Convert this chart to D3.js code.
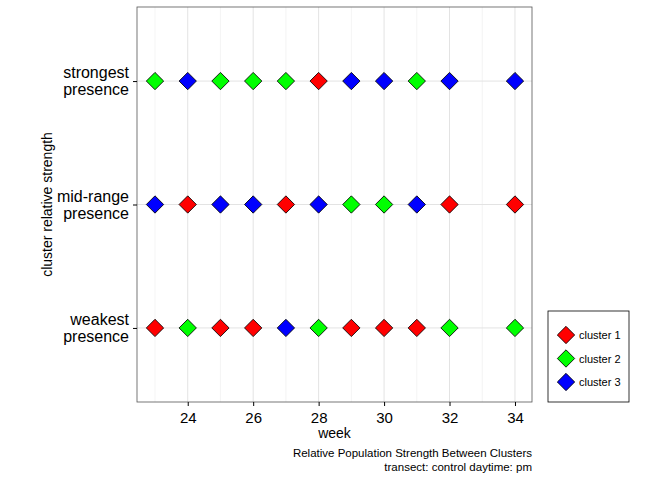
<!DOCTYPE html>
<html><head><meta charset="utf-8">
<script src="https://cdn.jsdelivr.net/npm/d3@7"></script>
<style>body{margin:0;background:#fff}text{font-family:"Liberation Sans",Arial,sans-serif}</style>
</head><body><svg id="c" width="672" height="480"></svg>
<script>
const weeks = [23,24,25,26,27,28,29,30,31,32,34];
const levels = ["weakest\npresence","mid-range\npresence","strongest\npresence"];
const strongest = [2,3,2,2,2,1,3,3,2,3,3];
const midrange  = [3,1,3,3,1,3,2,2,3,1,1];
const weakest   = [1,2,1,1,3,2,1,1,1,2,2];
const clusters = ["cluster 1","cluster 2","cluster 3"];
const colors = ["#ff0000","#00ff00","#0000ff"];
const xTicks = [24,26,28,30,32,34];

const svg = d3.select("#c");
const L=137,R=532,T=7,B=402;
const x = d3.scaleLinear().domain([22.45,34.52]).range([L,R]);
const y = d3.scaleLinear().domain([0.4,3.6]).range([B,T]);

// grid
svg.selectAll(".gv").data(d3.range(23,35)).join("line")
  .attr("x1",d=>x(d)).attr("x2",d=>x(d)).attr("y1",T).attr("y2",B)
  .attr("stroke",d=>d%2===0?"#e3e3e3":"#efefef").attr("stroke-width",d=>d%2===0?1:0.7);
svg.selectAll(".gh").data([1,2,3]).join("line")
  .attr("x1",L).attr("x2",R).attr("y1",d=>y(d)).attr("y2",d=>y(d))
  .attr("stroke","#e3e3e3");
svg.append("rect").attr("x",L).attr("y",T).attr("width",R-L).attr("height",B-T)
  .attr("fill","none").attr("stroke","#555").attr("stroke-width",0.8);

// axes
const xa = svg.append("g").attr("transform",`translate(0,${B})`)
  .call(d3.axisBottom(x).tickValues(xTicks).tickSize(4).tickSizeOuter(0));
xa.select(".domain").remove();
xa.selectAll("text").attr("font-size",15).attr("fill","#000").attr("dy","0.9em");
const ya = svg.append("g").attr("transform",`translate(${L},0)`)
  .call(d3.axisLeft(y).tickValues([1,2,3]).tickFormat("").tickSize(4));
ya.select(".domain").remove();
[1,2,3].forEach(v=>{
  const lines = levels[v-1].split("\n");
  const t = svg.append("text").attr("text-anchor","end").attr("font-size",16)
    .attr("x",L-8).attr("y",y(v)-3);
  lines.forEach((s,i)=>t.append("tspan").attr("x",L-8).attr("dy",i?17:0).text(s));
});

// points
const rows = [[3,strongest],[2,midrange],[1,weakest]];
const sym = d3.symbol().type(d3.symbolSquare).size(150);
rows.forEach(([lv,arr])=>{
  svg.selectAll(null).data(weeks).join("path")
    .attr("d",sym)
    .attr("transform",(d,i)=>`translate(${x(d)},${y(lv)}) rotate(45)`)
    .attr("fill",(d,i)=>colors[arr[i]-1]).attr("stroke","#000").attr("stroke-width",0.8);
});

// labels
svg.append("text").attr("x",(L+R)/2).attr("y",438).attr("text-anchor","middle").attr("font-size",14).text("week");
svg.append("text").attr("transform",`translate(52,${(T+B)/2}) rotate(-90)`).attr("text-anchor","middle").attr("font-size",14).text("cluster relative strength");
svg.append("text").attr("x",R).attr("y",457).attr("text-anchor","end").attr("font-size",11.5).text("Relative Population Strength Between Clusters");
svg.append("text").attr("x",R).attr("y",471).attr("text-anchor","end").attr("font-size",11.5).text("transect: control daytime: pm");

// legend
svg.append("rect").attr("x",548).attr("y",311).attr("width",81).attr("height",91)
  .attr("fill","#fff").attr("stroke","#000").attr("stroke-width",0.8);
clusters.forEach((c,i)=>{
  const yy = 335+i*23.5;
  svg.append("path").attr("d",sym).attr("transform",`translate(566,${yy}) rotate(45)`)
    .attr("fill",colors[i]).attr("stroke","#000").attr("stroke-width",0.8);
  svg.append("text").attr("x",579).attr("y",yy+4).attr("font-size",11).text(c);
});
</script></body></html>
